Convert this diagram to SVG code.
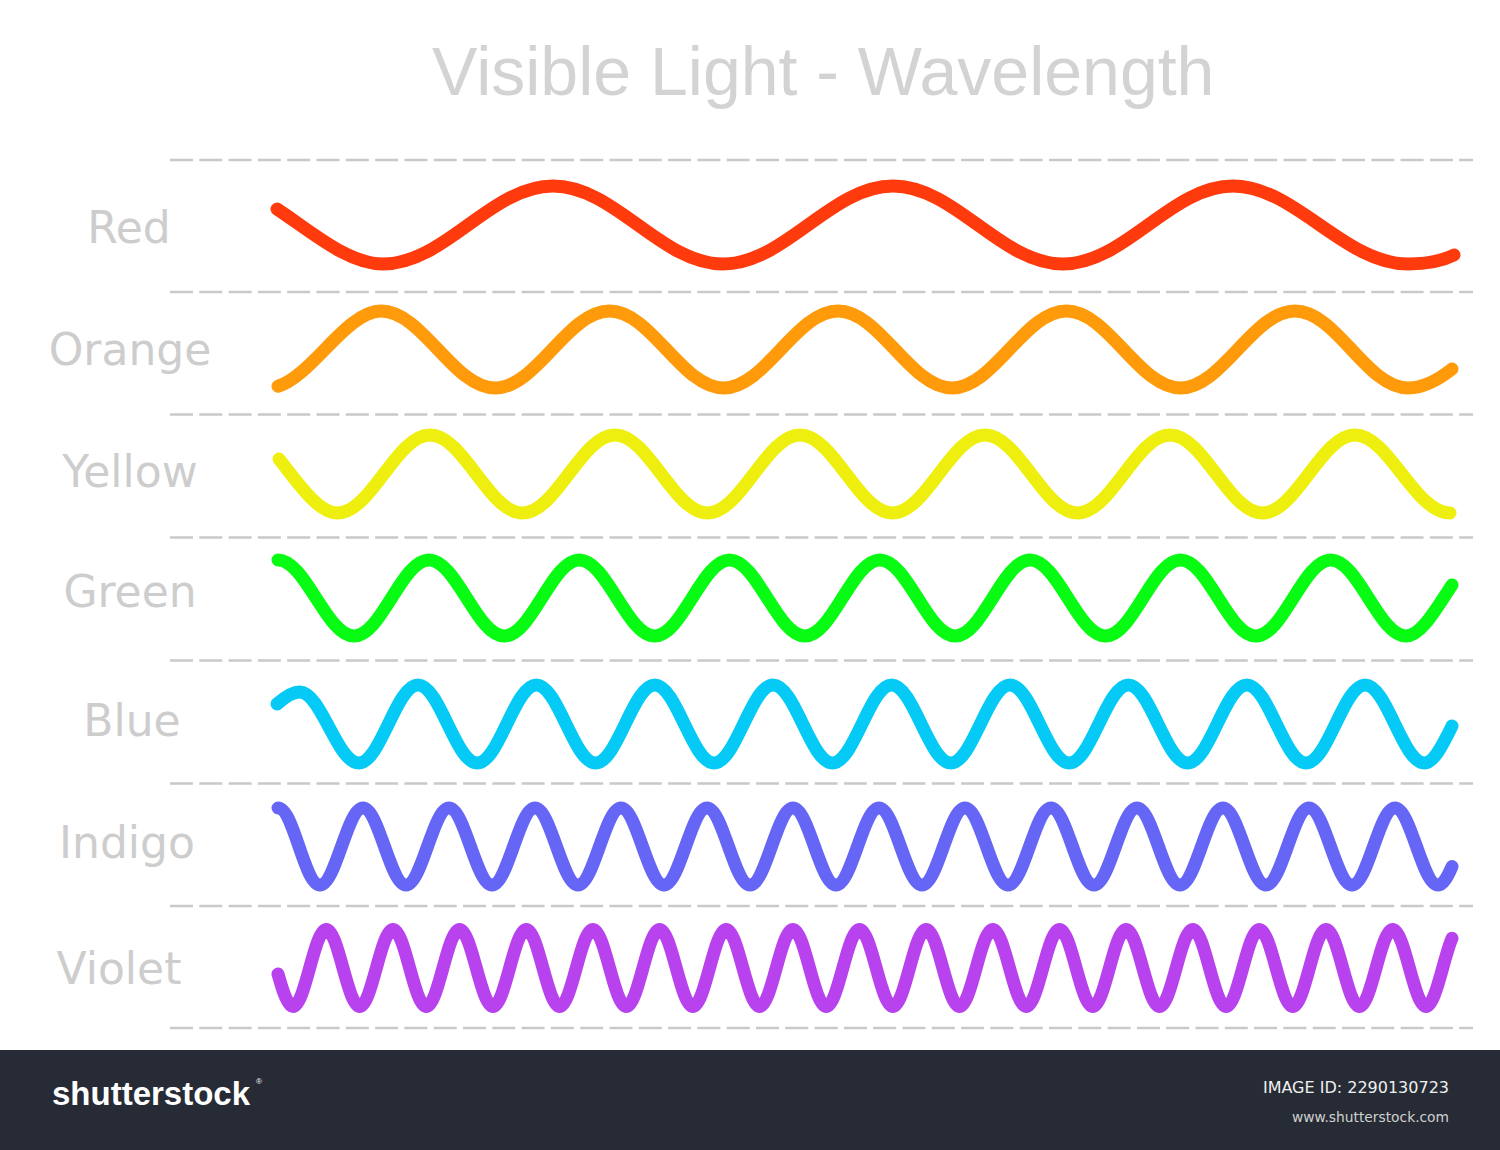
<svg xmlns="http://www.w3.org/2000/svg" width="1500" height="1150" viewBox="0 0 1500 1150">
<style>
.title{font-family:"Liberation Sans",Arial,sans-serif;font-size:68px;fill:#d3d3d3}
.lbl{font-family:"DejaVu Sans","Liberation Sans",sans-serif;font-size:44px;fill:#cdcdcd;text-anchor:middle}
.grid{stroke:#c9c9c9;stroke-width:2.5;stroke-dasharray:23 6.3;fill:none}
.wave{fill:none;stroke-width:13;stroke-linecap:round;stroke-linejoin:round}
.foot{font-family:"DejaVu Sans","Liberation Sans",sans-serif;text-anchor:end}
</style>
<rect x="0" y="0" width="1500" height="1150" fill="#ffffff"/>
<text class="title" x="432" y="95">Visible Light - Wavelength</text>
<g id="gridlines">
<line class="grid" x1="170" y1="160" x2="1473" y2="160"/>
<line class="grid" x1="170" y1="292" x2="1473" y2="292"/>
<line class="grid" x1="170" y1="414.5" x2="1473" y2="414.5"/>
<line class="grid" x1="170" y1="537.5" x2="1473" y2="537.5"/>
<line class="grid" x1="170" y1="660.5" x2="1473" y2="660.5"/>
<line class="grid" x1="170" y1="783.5" x2="1473" y2="783.5"/>
<line class="grid" x1="170" y1="906" x2="1473" y2="906"/>
<line class="grid" x1="170" y1="1028" x2="1473" y2="1028"/>
</g>
<g id="red">
<text class="lbl" x="129" y="243">Red</text>
<path class="wave" stroke="#ff3b0e" d="M277,209 C312.3,232.3 347.7,264 383,264 C445,264 491,186 553,186 S661,264 723,264 S831,186 893,186 S1001,264 1063,264 S1171,186 1233,186 S1344.3,264 1408,264 C1423.3,264 1438.7,262.7 1454,255"/>
</g>
<g id="orange">
<text class="lbl" x="130" y="365">Orange</text>
<path class="wave" stroke="#ff9b0b" d="M278,386.3 C312.3,375.5 346.7,311 381,311 C422.6,311 453.4,388 495,388 S567.9,311 609.5,311 S681.9,388 723.5,388 S796.4,311 838,311 S910.4,388 952,388 S1024.9,311 1066.5,311 S1138.9,388 1180.5,388 S1253.4,311 1295,311 S1366.4,388 1408,388 C1422.7,388 1437.3,380.7 1452,369"/>
</g>
<g id="yellow">
<text class="lbl" x="130" y="487">Yellow</text>
<path class="wave" stroke="#efef0f" d="M279,459 C298.5,483.4 318,513 337.5,513 C371.2,513 396.3,435 430,435 S488.8,513 522.5,513 S581.3,435 615,435 S673.8,513 707.5,513 S766.3,435 800,435 S858.8,513 892.5,513 S951.3,435 985,435 S1043.8,513 1077.5,513 S1136.3,435 1170,435 S1228.8,513 1262.5,513 S1321.3,435 1355,435 S1415,513 1450,513"/>
</g>
<g id="green">
<text class="lbl" x="130" y="607">Green</text>
<path class="wave" stroke="#08fb12" d="M278,560 C305.4,560 326.6,636 354,636 S401.6,560 429,560 S476.9,636 504.3,636 S551.9,560 579.3,560 S627.2,636 654.6,636 S702.2,560 729.6,560 S777.5,636 804.9,636 S852.5,560 879.9,560 S927.8,636 955.2,636 S1002.8,560 1030.2,560 S1078.1,636 1105.5,636 S1153.1,560 1180.5,560 S1228.4,636 1255.8,636 S1303.4,560 1330.8,560 S1378.7,636 1406.1,636 C1421.4,636 1436.7,607.8 1452,585"/>
</g>
<g id="blue">
<text class="lbl" x="132" y="736">Blue</text>
<path class="wave" stroke="#06caf6" d="M277,704 C284.5,697.4 292,692 299.6,692 C321.2,692 337.2,763 358.8,763 S396.4,685 418,685 S455.6,763 477.2,763 S514.8,685 536.4,685 S574,763 595.6,763 S633.2,685 654.8,685 S692.4,763 714,763 S751.6,685 773.2,685 S810.8,763 832.4,763 S870,685 891.6,685 S929.2,763 950.8,763 S988.4,685 1010,685 S1047.6,763 1069.2,763 S1106.8,685 1128.4,685 S1166,763 1187.6,763 S1225.2,685 1246.8,685 S1284.4,763 1306,763 S1343.6,685 1365.2,685 S1402.8,763 1424.4,763 C1433.6,763 1442.8,745 1452,726"/>
</g>
<g id="indigo">
<text class="lbl" x="127" y="858">Indigo</text>
<path class="wave" stroke="#6666f6" d="M278,808 C293.7,808 304.3,885 320,885 S347.3,808 363,808 S390.3,885 406,885 S433.3,808 449,808 S476.3,885 492,885 S519.3,808 535,808 S562.3,885 578,885 S605.3,808 621,808 S648.3,885 664,885 S691.3,808 707,808 S734.3,885 750,885 S777.3,808 793,808 S820.3,885 836,885 S863.3,808 879,808 S906.3,885 922,885 S949.3,808 965,808 S992.3,885 1008,885 S1035.3,808 1051,808 S1078.3,885 1094,885 S1121.3,808 1137,808 S1164.3,885 1180,885 S1207.3,808 1223,808 S1250.3,885 1266,885 S1293.3,808 1309,808 S1336.3,885 1352,885 S1379.3,808 1395,808 S1422.3,885 1438,885 C1442.7,885 1447.3,877.7 1452,866.5"/>
</g>
<g id="violet">
<text class="lbl" x="119" y="984">Violet</text>
<path class="wave" stroke="#b942ef" d="M278,974 C283,992 288,1006.5 293,1006.5 C305.1,1006.5 314.2,929.5 326.3,929.5 S347.6,1006.5 359.7,1006.5 S380.9,929.5 393,929.5 S414.2,1006.5 426.3,1006.5 S447.5,929.5 459.6,929.5 S480.9,1006.5 493,1006.5 S514.2,929.5 526.3,929.5 S547.5,1006.5 559.6,1006.5 S580.8,929.5 592.9,929.5 S614.2,1006.5 626.3,1006.5 S647.5,929.5 659.6,929.5 S680.8,1006.5 692.9,1006.5 S714.1,929.5 726.2,929.5 S747.5,1006.5 759.6,1006.5 S780.8,929.5 792.9,929.5 S814.1,1006.5 826.2,1006.5 S847.4,929.5 859.5,929.5 S880.8,1006.5 892.9,1006.5 S914.1,929.5 926.2,929.5 S947.4,1006.5 959.5,1006.5 S980.7,929.5 992.8,929.5 S1014.1,1006.5 1026.2,1006.5 S1047.4,929.5 1059.5,929.5 S1080.7,1006.5 1092.8,1006.5 S1114,929.5 1126.1,929.5 S1147.4,1006.5 1159.5,1006.5 S1180.7,929.5 1192.8,929.5 S1214,1006.5 1226.1,1006.5 S1247.3,929.5 1259.4,929.5 S1280.7,1006.5 1292.8,1006.5 S1314,929.5 1326.1,929.5 S1347.3,1006.5 1359.4,1006.5 S1380.6,929.5 1392.7,929.5 S1414,1006.5 1426.1,1006.5 C1431.6,1006.5 1437.2,988.1 1442.7,968 C1445.8,956.7 1448.9,945.5 1452,938.3"/>
</g>
<g id="footer">
<rect x="0" y="1050" width="1500" height="100" fill="#262b35"/>
<text x="52" y="1105" font-family="'Liberation Sans',Arial,sans-serif" font-weight="bold" font-size="33" fill="#ffffff">shutterstock</text>
<text x="256" y="1084" font-family="'Liberation Sans',Arial,sans-serif" font-size="8" fill="#ffffff">®</text>
<text class="foot" x="1449" y="1093" font-size="16" fill="#f0f0f0">IMAGE ID: 2290130723</text>
<text class="foot" x="1449" y="1122" font-size="13.8" fill="#d0d0d0">www.shutterstock.com</text>
</g>
</svg>
